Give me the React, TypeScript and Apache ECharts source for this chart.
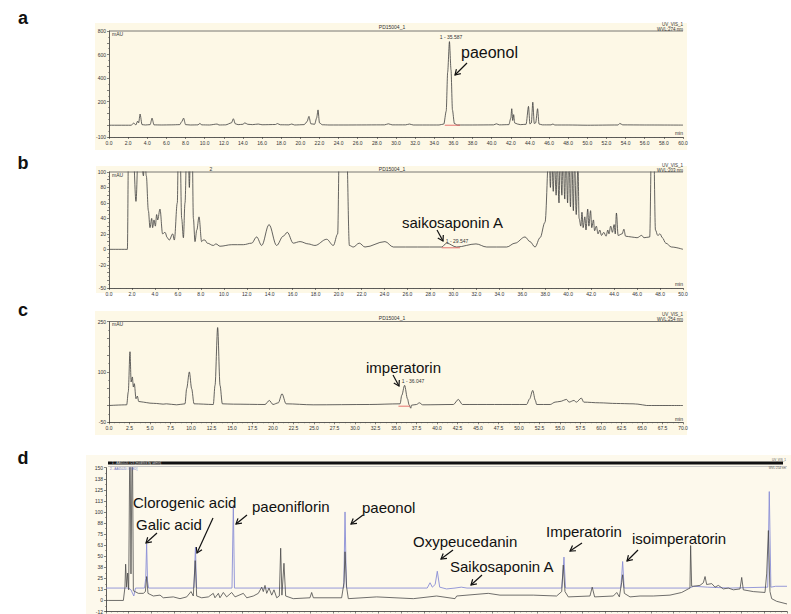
import React, { useEffect, useRef } from "react";
import * as echarts from "echarts";

// ---------- DATA (time in min, signal in mAU) ----------
const traceA: [number, number][] = [
  [0, 0], [2.3, 0], [2.6, 18], [2.8, 2], [3.0, 35], [3.1, 20], [3.25, 95], [3.45, 5], [3.8, 2], [4.3, 5], [4.5, 60], [4.7, 3],
  [5.5, 2], [6.5, 3], [7.4, 5], [7.6, 30], [7.8, 60], [8.0, 5], [8.5, 2], [9.3, 3], [9.5, 15], [9.7, 3], [10.5, 2], [11.3, 10],
  [11.5, 2], [12.2, 3], [12.8, 20], [13.0, 55], [13.2, 12], [13.5, 5], [14.0, 8], [14.2, 20], [14.5, 8], [15.0, 5], [15.6, 10],
  [16.0, 4], [17.4, 6], [17.6, 14], [17.9, 4], [18.8, 3], [19.1, 10], [19.4, 2], [20.4, 5], [20.7, 30], [20.9, 75], [21.1, 12],
  [21.5, 8], [21.7, 60], [21.85, 130], [22.0, 20], [22.3, 4], [23.0, 2], [25.0, 2], [28.8, 3], [29.2, 12], [29.6, 3], [31.0, 3],
  [31.4, 10], [31.8, 2], [34.5, 2], [35.0, 10], [35.25, 120], [35.4, 450], [35.587, 710], [35.75, 470], [35.9, 130], [36.1, 15],
  [36.4, 2], [38.0, 2], [40.2, 3], [40.5, 12], [40.8, 3], [41.8, 5], [42.0, 60], [42.1, 140], [42.2, 40], [42.3, 90], [42.4, 20],
  [42.7, 10], [43.0, 5], [43.6, 8], [43.85, 160], [44.0, 10], [44.15, 20], [44.3, 195], [44.45, 15], [44.6, 20], [44.8, 140],
  [44.95, 10], [45.3, 3], [46.2, 3], [46.4, 10], [46.6, 2], [48.0, 2], [50.0, 0], [53.2, 2], [53.4, 15], [53.7, 3], [56.0, 2], [60.0, 1],
];

const traceB: [number, number][] = [
  [0, 0], [1.6, 0], [1.7, 130], [2.1, 130], [2.35, 62], [2.55, 130], [2.7, 130], [2.85, 110], [3.0, 95], [3.1, 130], [3.25, 95],
  [3.43, 50], [3.57, 28], [3.72, 40], [3.8, 28], [3.92, 38], [4.04, 30], [4.15, 45], [4.24, 38], [4.44, 52], [4.67, 20], [4.88, 22],
  [5.08, 15], [5.25, 12], [5.55, 20], [5.69, 12], [5.95, 60], [6.04, 130], [6.19, 130], [6.33, 40], [6.48, 15], [6.62, 60],
  [6.77, 130], [6.9, 130], [7.0, 80], [7.1, 130], [7.25, 130], [7.35, 40], [7.49, 10], [7.65, 25], [7.84, 42], [8.07, 10],
  [8.2, 12], [8.36, 12], [8.56, 8], [9.08, 5], [9.32, 7], [9.67, 4], [10.69, 6], [11.7, 6], [12.43, 8], [12.86, 16], [13.3, 5],
  [13.94, 32], [14.6, 5], [15.18, 17], [15.53, 22], [16.05, 8], [16.64, 10], [17.36, 7], [17.94, 5], [18.96, 13], [19.54, 5],
  [19.92, 20], [20.06, 130], [20.7, 130], [20.94, 5], [21.28, 3], [21.8, 8], [22.3, 3], [24.04, 10], [24.77, 3], [28.98, 3],
  [29.41, 8], [30.28, 3], [31.97, 7], [32.9, 3], [34.64, 3], [35.37, 8], [36.24, 16], [36.67, 10], [37.11, 3], [37.55, 15],
  [37.98, 35], [38.33, 130], [38.45, 80], [38.55, 130], [38.7, 75], [38.8, 120], [38.95, 70], [39.05, 115], [39.2, 60],
  [39.3, 130], [39.45, 70], [39.55, 130], [39.7, 65], [39.8, 130], [39.95, 60], [40.05, 130], [40.2, 55], [40.3, 130],
  [40.45, 50], [40.55, 120], [40.7, 45], [40.85, 110], [40.95, 40], [41.1, 30], [41.2, 48], [41.3, 28], [41.45, 42], [41.55, 25],
  [41.7, 52], [41.8, 30], [41.95, 50], [42.05, 28], [42.2, 38], [42.3, 24], [42.45, 30], [42.6, 20], [42.75, 25], [42.9, 18],
  [43.1, 22], [43.3, 17], [43.45, 25], [43.55, 20], [43.7, 30], [43.85, 22], [44.0, 32], [44.1, 20], [44.2, 47], [44.35, 18],
  [44.7, 20], [44.85, 26], [45.0, 17], [45.5, 16], [46.0, 15], [46.4, 18], [46.6, 15], [47.1, 16], [47.25, 130], [47.45, 130],
  [47.6, 25], [47.8, 18], [48.0, 20], [48.2, 15], [48.5, 8], [49.0, 3], [50.0, 0],
];

const traceC: [number, number][] = [
  [0, 0], [2.16, 2], [2.35, 40], [2.56, 160], [2.7, 70], [2.85, 85], [2.97, 55], [3.09, 65], [3.29, 20], [3.46, 28], [3.62, 12],
  [4.2, 10], [5.0, 7], [5.8, 6], [6.6, 4], [7.0, 5], [8.25, 2], [9.27, 5], [9.47, 50], [9.8, 100], [10.08, 50], [10.37, 5],
  [12.72, 3], [12.93, 60], [13.25, 232], [13.54, 60], [13.82, 5], [15.16, 4], [19.03, 3], [19.55, 15], [20.0, 3], [20.65, 8],
  [21.1, 35], [21.59, 5], [24.9, 2], [31.8, 3], [35.5, 5], [35.7, 30], [36.05, 60], [36.4, 20], [36.6, 2], [36.8, -8], [36.9, 1],
  [37.5, 3], [37.85, 8], [38.25, 2], [42.0, 3], [42.6, 18], [43.1, 3], [50.93, 3], [51.3, 20], [51.67, 45], [52.0, 15], [52.15, 3],
  [53.8, 3], [54.4, 10], [55.0, 12], [55.8, 18], [56.1, 10], [56.7, 15], [57.0, 10], [57.6, 22], [57.9, 10], [59.8, 8], [61.9, 6],
  [63.9, 5], [64.5, 4], [65.57, 0], [70.0, 0],
];

const traceDBlue: [number, number][] = [
  [0, 14], [1.8, 14], [2.0, 14], [2.2, 12], [2.45, 5], [2.6, 14], [3.4, 14], [3.5, 25],
  [3.58, 64], [3.66, 22], [3.75, 14], [7.75, 14], [7.88, 60], [7.98, 14], [11.1, 14], [11.22, 108], [11.32, 14], [20.95, 14],
  [21.06, 100], [21.18, 14], [28.3, 14], [28.55, 20], [28.75, 15], [29.0, 18], [29.19, 33], [29.4, 15], [30.0, 13], [30.75, 14],
  [31.3, 15], [31.8, 14], [40.15, 14], [40.25, 30], [40.35, 49], [40.48, 14], [45.35, 14], [45.45, 30], [45.52, 44], [45.65, 14],
  [51.4, 14], [51.8, 16], [53.0, 15], [55.0, 14], [58.3, 15], [58.44, 123], [58.58, 15], [59.0, 16], [60.0, 16],
];

const traceDDark: [number, number][] = [
  [0, 0], [0.2, 0], [1.53, 0], [1.67, 15], [1.73, 41], [1.82, 15], [1.91, 31], [2.0, 12], [2.11, 200], [2.2, 30], [2.32, 200],
  [2.41, 11], [2.85, 8], [3.29, 8], [3.47, 10], [3.58, 27], [3.7, 8], [4.17, 5], [4.76, 6], [5.05, 3], [5.93, 4], [6.52, 2],
  [7.11, 4], [7.49, 10], [7.69, 5], [7.86, 45], [7.99, 5], [8.43, 3], [9.02, 4], [9.45, 8], [9.6, 3], [9.9, 8], [10.04, 3],
  [10.34, 9], [10.63, 4], [11.07, 9], [11.37, 4], [12.1, 8], [12.4, 3], [12.98, 5], [13.42, 8], [13.72, 15], [13.86, 10],
  [14.01, 17], [14.16, 8], [14.36, 14], [14.6, 6], [14.8, 12], [15.04, 3], [15.27, 5], [15.39, 59], [15.5, 6], [15.68, 42],
  [15.83, 5], [16.5, 2], [17.97, 3], [18.12, 9], [18.27, 3], [20.76, 3], [20.97, 20], [21.06, 55], [21.2, 15], [21.35, 2],
  [23.85, 4], [27.08, 2], [29.13, 5], [30.75, 2], [30.9, 5], [33.68, 8], [34.71, 6], [37.65, 6], [39.7, 5], [40.15, 10],
  [40.29, 40], [40.44, 10], [40.73, 4], [42.64, 5], [42.84, 15], [43.05, 4], [44.7, 5], [45.0, 9], [45.23, 4], [45.43, 20],
  [45.52, 29], [45.67, 8], [46.17, 4], [47.05, 5], [48.22, 5], [49.69, 6], [50.72, 9], [51.3, 13], [51.45, 14], [51.51, 62],
  [51.6, 16], [51.75, 16], [52.33, 17], [52.63, 20], [52.78, 27], [52.92, 18], [53.37, 19], [53.66, 15], [53.95, 17],
  [54.39, 13], [54.83, 14], [55.27, 12], [55.86, 13], [56.01, 26], [56.15, 12], [57.03, 10], [58.06, 9], [58.21, 30],
  [58.36, 79], [58.5, 10], [58.65, 2], [59.09, -1], [60.0, -4],
];

const baselineA: [number, number][] = [[35.1, 0], [36.7, 0]];
const baselineB: [number, number][] = [[28.98, 2], [30.57, 2]];
const baselineC: [number, number][] = [[35.3, -2], [36.7, -2]];

const yLabelsA = [800, 600, 400, 200, -100];
const yLabelsB = [100, 80, 60, 40, 20, 0, -20, -50];
const yLabelsC = [250, 100, -50];

const compoundsD = ["Galic acid", "Clorogenic acid", "paeoniflorin", "paeonol", "Oxypeucedanin", "Saikosaponin A", "Imperatorin", "isoimperatorin"];

const FONT = "Liberation Sans, Arial, sans-serif";
const CREAM = "#fdf8e6";
const TRACE = "#3d3d3d";

function arrow(x1: number, y1: number, x2: number, y2: number, lw = 1.2): any[] {
  const ang = Math.atan2(y2 - y1, x2 - x1);
  const h = 6;
  const p1 = [x2 - h * Math.cos(ang - 0.55), y2 - h * Math.sin(ang - 0.55)];
  const p2 = [x2 - h * Math.cos(ang + 0.55), y2 - h * Math.sin(ang + 0.55)];
  return [
    { type: "line", z: 50, shape: { x1, y1, x2, y2 }, style: { stroke: "#111", lineWidth: lw } },
    { type: "polyline", z: 50, shape: { points: [p1, [x2, y2], p2] }, style: { stroke: "#111", lineWidth: lw, fill: null } },
  ];
}

function tiny(text: string, x: number, y: number, align = "left", color = "#333", size = 5): any {
  return { type: "text", z: 50, x, y, style: { text, fontSize: size, fontFamily: FONT, fill: color, align, verticalAlign: "middle" } };
}

function big(text: string, x: number, y: number, size = 15): any {
  return { type: "text", z: 50, x, y, style: { text, fontSize: size, fontFamily: FONT, fill: "#111", align: "left", verticalAlign: "top" } };
}

function letter(text: string, x: number, y: number): any {
  return { type: "text", z: 50, x, y, style: { text, fontSize: 18, fontWeight: "bold", fontFamily: FONT, fill: "#111", align: "center", verticalAlign: "middle" } };
}

function bg(x: number, y: number, w: number, h: number, fill = CREAM): any {
  return { type: "rect", z: -10, shape: { x, y, width: w, height: h }, style: { fill } };
}

function hline(x1: number, x2: number, y: number, stroke = "#555", lw = 0.8): any {
  return { type: "line", z: 40, shape: { x1, y1: y, x2, y2: y }, style: { stroke, lineWidth: lw } };
}

function xAxisCfg(gridIndex: number, max: number, interval: number, showLabel = true): any {
  return {
    type: "value", gridIndex, min: 0, max, interval,
    axisLine: { show: true, onZero: false, lineStyle: { color: "#333", width: 0.8 } },
    axisTick: { show: true, length: 2, lineStyle: { color: "#333", width: 0.6 } },
    minorTick: { show: true, splitNumber: 4, length: 1, lineStyle: { color: "#555", width: 0.5 } },
    splitLine: { show: false },
    axisLabel: { show: showLabel, fontSize: 5, color: "#333", margin: 3, fontFamily: FONT, formatter: (v: number) => v.toFixed(1) },
  };
}

function yAxisCfg(gridIndex: number, min: number, max: number, interval: number, labels: number[] | null): any {
  return {
    type: "value", gridIndex, min, max, interval,
    axisLine: { show: true, onZero: false, lineStyle: { color: "#333", width: 0.8 } },
    axisTick: { show: true, length: 2, lineStyle: { color: "#333", width: 0.6 } },
    minorTick: { show: true, splitNumber: 2, length: 1, lineStyle: { color: "#555", width: 0.5 } },
    splitLine: { show: false },
    axisLabel: {
      show: true, fontSize: 5, color: "#333", margin: 3, fontFamily: FONT,
      formatter: (v: number) => (labels === null ? String(Math.round(v)) : labels.includes(v) ? String(v) : ""),
    },
  };
}

function lineSeries(data: [number, number][], idx: number, color = TRACE, width = 0.8, smooth = 0): any {
  return {
    type: "line", xAxisIndex: idx, yAxisIndex: idx, data, symbol: "none", showSymbol: false,
    smooth, smoothMonotone: "x",
    lineStyle: { color, width }, itemStyle: { color }, clip: true, silent: true, z: 3,
  };
}

export default function App() {
  const ref = useRef<HTMLDivElement>(null);
  useEffect(() => {
    if (!ref.current) return;
    const chart = echarts.init(ref.current, null, { renderer: "svg" });
    const graphics: any[] = [
      bg(95, 23, 592, 127),
      bg(96, 166, 591, 127),
      bg(95, 311, 592, 124),
      bg(86, 455, 705, 159, "#fdf9ec"),
      letter("a", 23, 18), letter("b", 23, 163), letter("c", 23, 310), letter("d", 23, 458),
      hline(109, 683, 31), hline(109, 683, 172), hline(109, 683, 321.5),
      tiny("PD15004_1", 392, 27, "center"), tiny("UV_VIS_1", 683, 24, "right", "#333", 4.5), tiny("WVL:274 nm", 683, 29.5, "right", "#333", 4.5),
      tiny("mAU", 112, 34), tiny("min", 683, 133, "right"), tiny("1 - 35.587", 451, 37, "center"),
      big("paeonol", 461, 44, 16),
      ...arrow(467, 63, 455, 75),
      tiny("2", 211, 169, "center"), tiny("PD15004_1", 392, 169, "center"), tiny("UV_VIS_1", 683, 165, "right", "#333", 4.5),
      tiny("WVL:203 nm", 683, 170.5, "right", "#333", 4.5), tiny("mAU", 112, 175), tiny("min", 683, 284, "right"),
      tiny("1 - 29.547", 457, 241, "center"),
      big("saikosaponin A", 402, 215, 15),
      ...arrow(437, 230, 443, 241),
      tiny("PD15004_1", 392, 318, "center"), tiny("UV_VIS_1", 683, 314, "right", "#333", 4.5), tiny("WVL:254 nm", 683, 319.5, "right", "#333", 4.5),
      tiny("mAU", 112, 324), tiny("min", 683, 419, "right"), tiny("1 - 36.047", 413, 381, "center"),
      big("imperatorin", 366, 360, 15),
      ...arrow(393, 375, 399, 386),
      { type: "rect", z: 40, shape: { x: 108, y: 461.5, width: 675, height: 3 }, style: { fill: "#111" } },
      hline(108, 787, 466.5, "#bbb", 0.8),
      tiny("1 - AA65020 #23 [modified by admin]", 112, 463, "left", "#ddd", 3),
      tiny("2 - AA65020 #7 [ED]", 110, 468.5, "left", "#6670c0", 3),
      tiny("UV_VIS_1", 786, 460, "right", "#555", 3),
      tiny("WVL:254 nm", 786, 467.5, "right", "#555", 3),
      big(compoundsD[1], 133, 495, 15),
      big(compoundsD[0], 136, 517, 15),
      big(compoundsD[2], 252, 499, 15),
      big(compoundsD[3], 362, 500, 15),
      big(compoundsD[4], 413, 534, 15),
      big(compoundsD[5], 450, 559, 15),
      big(compoundsD[6], 546, 524, 15),
      big(compoundsD[7], 632, 531, 15),
      ...arrow(157, 533, 146, 543),
      ...arrow(213, 518, 197, 553),
      ...arrow(247, 515, 236, 524),
      ...arrow(363, 515, 351, 524),
      ...arrow(453, 550, 441, 559),
      ...arrow(482, 575, 471, 585),
      ...arrow(582, 543, 570, 551),
      ...arrow(638, 550, 627, 561),
    ];

    chart.setOption({
      animation: false,
      backgroundColor: "#ffffff",
      grid: [
        { left: 109, right: 108, top: 31, bottom: 477 },
        { left: 109, right: 108, top: 172, bottom: 326 },
        { left: 109, right: 108, top: 321.5, bottom: 191.7 },
        { left: 106, right: 4, top: 467.7, bottom: 1 },
      ],
      xAxis: [
        xAxisCfg(0, 60, 2),
        xAxisCfg(1, 50, 2),
        xAxisCfg(2, 70, 2.5),
        xAxisCfg(3, 60, 2, false),
      ],
      yAxis: [
        yAxisCfg(0, -100, 800, 100, yLabelsA),
        yAxisCfg(1, -50, 100, 10, yLabelsB),
        yAxisCfg(2, -50, 250, 50, yLabelsC),
        yAxisCfg(3, -12.5, 150, 12.5, null),
      ],
      series: [
        lineSeries(traceA, 0, TRACE, 0.8, 0.25),
        lineSeries(baselineA, 0, "#e05050", 0.8),
        lineSeries(traceB, 1, TRACE, 0.8, 0.35),
        lineSeries(baselineB, 1, "#e05050", 0.8),
        lineSeries(traceC, 2, TRACE, 0.8, 0.3),
        lineSeries(baselineC, 2, "#e05050", 0.8),
        lineSeries(traceDBlue, 3, "#8a8fd6", 0.9),
        lineSeries(traceDDark, 3, "#4a4a4a", 0.8),
      ],
      graphic: graphics,
    });
    return () => chart.dispose();
  }, []);
  return <div ref={ref} style={{ width: 791, height: 614, position: "absolute", left: 0, top: 0 }} />;
}
